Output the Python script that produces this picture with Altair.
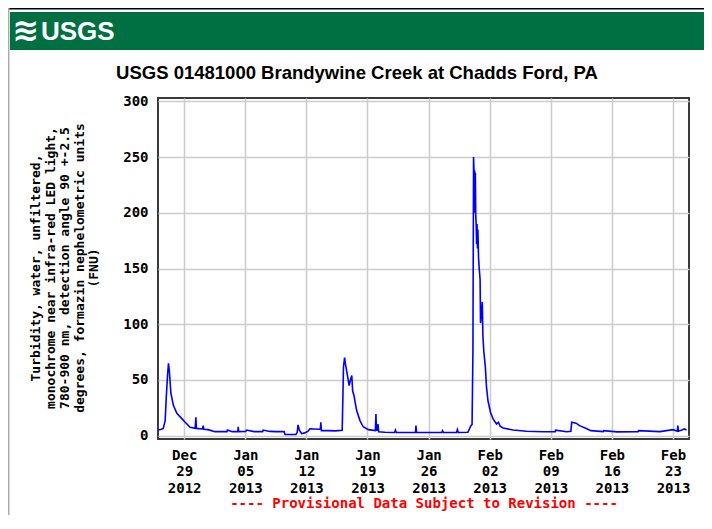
import altair as alt
import pandas as pd

# ---- data (days since 2012-12-26 00:00, turbidity FNU) ----
day_offsets = [
    0.0, 0.3, 0.6, 0.82, 0.95, 1.1, 1.2, 1.3, 1.48, 1.77, 2.16, 2.73, 3.11, 3.68,
    4.26, 4.34, 4.4, 5.1, 5.17, 5.25, 5.74, 6.52, 7.9, 7.95, 8.5, 9.15, 9.18, 9.25,
    10.05, 10.15, 11.0, 12.0, 12.05, 12.8, 13.5, 14.45, 14.55, 15.2, 15.8, 15.95,
    16.04, 16.2, 16.45, 16.8, 17.2, 17.4, 17.9, 18.5, 18.6, 18.65, 18.72, 19.5,
    20.3, 21.1, 21.18, 21.25, 21.38, 21.48, 21.55, 21.7, 21.9, 22.05, 22.2, 22.3,
    22.45, 22.76, 23.14, 23.5, 24.1, 24.9, 24.97, 25.02, 25.15, 25.2, 25.28, 26.0,
    27.1, 27.2, 27.3, 28.5, 29.5, 29.55, 29.62, 31.0, 32.5, 32.6, 32.7, 34.2, 34.3,
    34.4, 35.5, 35.85, 35.98, 36.08, 36.15, 36.2, 36.24, 36.28, 36.32, 36.36, 36.4,
    36.45, 36.5, 36.55, 36.6, 36.65, 36.72, 36.8, 36.9, 36.95, 37.05, 37.15, 37.22,
    37.32, 37.5, 37.63, 37.8, 38.09, 38.39, 38.78, 39.0, 39.2, 39.53, 40.68, 42.2,
    44.1, 45.5, 45.55, 46.8, 47.3, 47.4, 47.9, 48.3, 49.0, 49.6, 51.0, 51.05,
    52.6, 55.0, 55.05, 57.5, 59.0, 59.5, 59.55, 59.62, 60.0, 60.3, 60.55,
]
turbidity = [
    5.0, 5.5, 6.5, 13.5, 35.0, 55.0, 65.0, 58.0, 38.0, 27.0, 20.0, 15.3, 12.0, 7.5,
    6.6, 16.4, 6.5, 6.0, 9.0, 5.8, 5.4, 3.6, 3.6, 5.0, 3.6, 3.8, 8.0, 3.6,
    3.8, 5.0, 3.6, 3.6, 5.0, 3.8, 3.6, 3.6, 1.0, 1.0, 1.0, 3.0,
    9.7, 5.0, 1.8, 2.5, 4.0, 6.2, 6.0, 5.8, 6.0, 12.0, 4.5, 4.5,
    4.3, 4.8, 34.0, 62.0, 70.0, 64.0, 61.0, 54.0, 45.0, 50.0, 54.0, 40.0,
    36.0, 22.5, 13.5, 8.0, 5.4, 4.5, 19.5, 5.0, 5.0, 10.5, 3.5, 3.0,
    2.8, 5.0, 2.8, 2.8, 2.9, 9.0, 2.8, 2.8, 2.8, 4.5, 2.8, 2.8, 5.5,
    2.8, 3.0, 9.0, 10.0, 76.0, 250.0, 238.0, 205.0, 238.0, 200.0, 236.0, 198.0,
    190.0, 172.0, 190.0, 168.0, 185.0, 160.0, 150.0, 140.0, 101.0, 110.0, 120.0, 90.0,
    76.0, 62.0, 44.0, 31.5, 21.0, 15.0, 10.5, 12.0, 8.5, 6.9, 5.1, 3.9,
    3.5, 3.5, 5.0, 3.5, 4.0, 12.0, 11.2, 9.0, 6.6, 4.5, 3.6, 4.5,
    3.4, 3.6, 4.5, 3.6, 5.4, 4.0, 9.0, 4.0, 5.0, 6.0, 5.0,
]

start_date = pd.Timestamp("2012-12-26 00:00")
tick_dates = [(2012, 12, 29), (2013, 1, 5), (2013, 1, 12), (2013, 1, 19), (2013, 1, 26),
              (2013, 2, 2), (2013, 2, 9), (2013, 2, 16), (2013, 2, 23)]
y_ticks = [0, 50, 100, 150, 200, 250, 300]

title_text = "USGS 01481000 Brandywine Creek at Chadds Ford, PA"
y_title_lines = [
    "Turbidity, water, unfiltered,",
    "monochrome near infra-red LED light,",
    "780-900 nm, detection angle 90 +-2.5",
    "degrees, formazin nephelometric units",
    "(FNU)",
]
footer_text = "---- Provisional Data Subject to Revision ----"

df = pd.DataFrame({
    "time": start_date + pd.to_timedelta(day_offsets, unit="D"),
    "value": turbidity,
})

W, H = 531, 341
MONO = "DejaVu Sans Mono"
SANS = "Liberation Sans"

x_scale = alt.Scale(
    domain=[alt.DateTime(year=2012, month=12, date=26, hours=0),
            alt.DateTime(year=2013, month=2, date=24, hours=20)],
)
y_scale = alt.Scale(domain=[-3, 303], nice=False, zero=False)

line = alt.Chart(df).mark_line(color="#0000ff", strokeWidth=1.6, clip=True).encode(
    x=alt.X("time:T", scale=x_scale, title=None,
            axis=alt.Axis(
                values=[alt.DateTime(year=a, month=b, date=c) for a, b, c in tick_dates],
                labelExpr="[timeFormat(datum.value, '%b'), timeFormat(datum.value, '%d'), timeFormat(datum.value, '%Y')]",
                labelLineHeight=16.5, labelPadding=9, labelBaseline="top",
            )),
    y=alt.Y("value:Q", scale=y_scale, title=None,
            axis=alt.Axis(values=y_ticks, labelPadding=10)),
)

one = pd.DataFrame({"k": [0]})

banner = alt.Chart(one).mark_rect(color="#006f41").encode(
    x=alt.value(-148), x2=alt.value(546), y=alt.value(-86), y2=alt.value(-48))
top_rule = alt.Chart(one).mark_rule(color="#000000", strokeWidth=1.5).encode(
    x=alt.value(-150), x2=alt.value(546), y=alt.value(-89.3))
left_rule = alt.Chart(one).mark_rule(color="#aaaaaa", strokeWidth=1.5).encode(
    x=alt.value(-149.3), y=alt.value(-90), y2=alt.value(420))
logo_icon = alt.Chart(one).mark_text(
    text="≋", color="white", font="DejaVu Sans", fontSize=32, fontWeight="bold",
    align="center", baseline="middle").encode(x=alt.value(-132), y=alt.value(-67))
logo_text = alt.Chart(one).mark_text(
    text="USGS", color="white", font=SANS, fontSize=26,
    fontWeight="bold", align="left", baseline="middle").encode(
    x=alt.value(-117), y=alt.value(-66))
title = alt.Chart(one).mark_text(
    text=title_text, font=SANS, fontSize=18.5, fontWeight="bold",
    color="black", align="center", baseline="middle").encode(
    x=alt.value(199), y=alt.value(-25))
y_title = alt.Chart(one).mark_text(
    text=y_title_lines, font=MONO, fontSize=13, fontWeight="bold", color="black",
    angle=270, align="center", baseline="middle", lineHeight=14.5).encode(
    x=alt.value(-122), y=alt.value(170))
footer = alt.Chart(one).mark_text(
    text=footer_text, font=MONO, fontSize=14, fontWeight="bold", color="#ff0000",
    align="center", baseline="middle").encode(x=alt.value(266), y=alt.value(406))

chart = alt.layer(
    banner, top_rule, left_rule, logo_icon, logo_text, title, y_title, footer, line
).properties(
    width=W, height=H,
    padding={"left": 150, "top": 90, "right": 15, "bottom": 76},
    autosize=alt.AutoSizeParams(type="none"),
    background="white",
).configure_view(
    stroke="#3a3a3a", strokeWidth=2,
).configure_axis(
    labelFont=MONO, labelFontSize=14, labelFontWeight="bold", labelColor="black",
    domain=False, ticks=False, grid=True, gridColor="#cccccc", gridWidth=1.5,
)

chart.save("out.html", embed_options={"renderer": "svg", "actions": False})
